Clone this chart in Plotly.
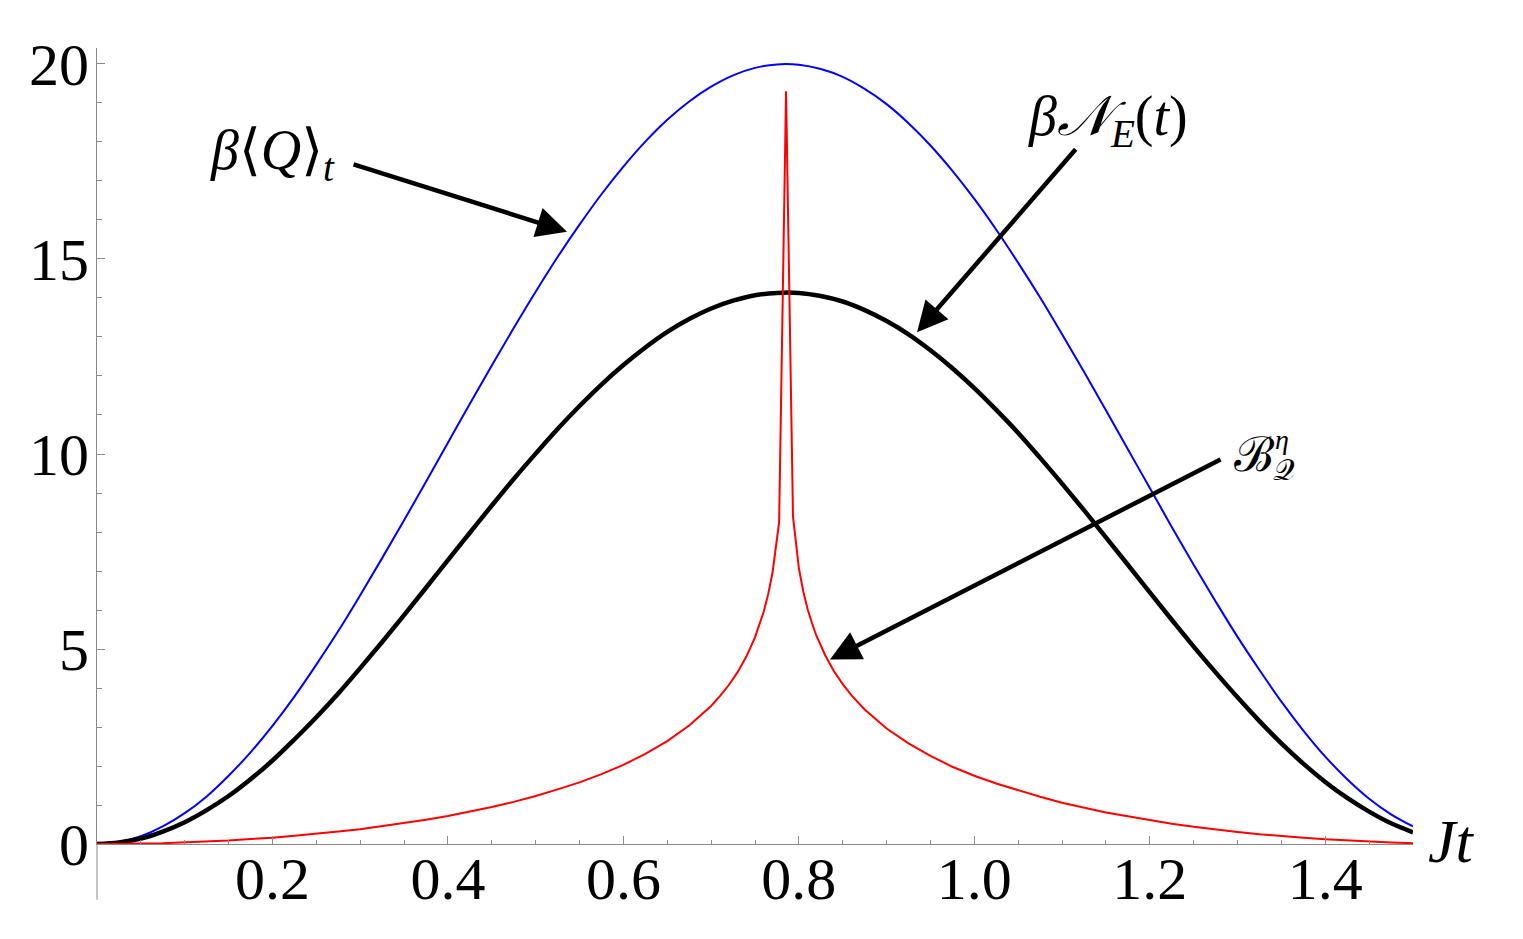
import plotly.graph_objects as go

# ---- data ----
t_smooth = [0.0, 0.025, 0.05, 0.075, 0.1, 0.125, 0.15, 0.175, 0.2, 0.225, 0.25, 0.275, 0.3, 0.325,
            0.35, 0.375, 0.4, 0.425, 0.45, 0.475, 0.5, 0.525, 0.55, 0.575, 0.6, 0.625, 0.65, 0.675,
            0.7, 0.725, 0.75, 0.775, 0.8, 0.825, 0.85, 0.875, 0.9, 0.925, 0.95, 0.975, 1.0, 1.025,
            1.05, 1.075, 1.1, 1.125, 1.15, 1.175, 1.2, 1.225, 1.25, 1.275, 1.3, 1.325, 1.35, 1.375,
            1.4, 1.425, 1.45, 1.475, 1.5]

heat_Q = [0.0, 0.05, 0.2, 0.45, 0.79, 1.22, 1.75, 2.35, 3.03, 3.78, 4.6, 5.46, 6.38, 7.33,
          8.3, 9.29, 10.29, 11.29, 12.27, 13.23, 14.16, 15.05, 15.88, 16.66, 17.37, 18.01, 18.57, 19.04,
          19.42, 19.71, 19.9, 19.99, 19.98, 19.87, 19.67, 19.36, 18.97, 18.48, 17.91, 17.26, 16.54, 15.75,
          14.9, 14.01, 13.07, 12.11, 11.12, 10.12, 9.13, 8.13, 7.16, 6.22, 5.31, 4.46, 3.65, 2.91,
          2.24, 1.66, 1.16, 0.76, 0.45]

negativity_NE = [0.0, 0.04, 0.14, 0.32, 0.56, 0.87, 1.23, 1.66, 2.14, 2.68, 3.25, 3.86, 4.51, 5.18,
                 5.87, 6.57, 7.28, 7.98, 8.68, 9.36, 10.01, 10.64, 11.23, 11.78, 12.28, 12.73, 13.13, 13.46,
                 13.73, 13.93, 14.07, 14.13, 14.13, 14.05, 13.91, 13.69, 13.41, 13.07, 12.66, 12.2, 11.69, 11.13,
                 10.54, 9.9, 9.24, 8.56, 7.86, 7.16, 6.45, 5.75, 5.06, 4.4, 3.76, 3.15, 2.58, 2.06,
                 1.59, 1.18, 0.83, 0.53, 0.3]

t_red = [0.0, 0.025, 0.05, 0.075, 0.1, 0.125, 0.15, 0.175, 0.2, 0.225, 0.25, 0.275, 0.3, 0.325,
         0.35, 0.375, 0.4, 0.425, 0.45, 0.475, 0.5, 0.525, 0.55, 0.575, 0.6, 0.625, 0.65, 0.675,
         0.69, 0.7, 0.71, 0.72, 0.73, 0.74, 0.75, 0.76, 0.765, 0.77, 0.7775, 0.7854, 0.7933,
         0.8, 0.805, 0.81, 0.815, 0.82, 0.83, 0.84, 0.85, 0.86, 0.875, 0.9, 0.925, 0.95, 0.975,
         1.0, 1.025, 1.05, 1.075, 1.1, 1.125, 1.15, 1.175, 1.2, 1.225, 1.25, 1.275, 1.3, 1.325,
         1.35, 1.375, 1.4, 1.425, 1.45, 1.475, 1.5]

bound_B = [0.0, 0.0, 0.01, 0.02, 0.04, 0.06, 0.09, 0.13, 0.16, 0.21, 0.26, 0.32, 0.38, 0.46,
           0.54, 0.62, 0.72, 0.83, 0.95, 1.08, 1.23, 1.4, 1.58, 1.79, 2.03, 2.31, 2.64, 3.04,
           3.33, 3.54, 3.79, 4.07, 4.4, 4.8, 5.3, 5.96, 6.4, 6.96, 8.25, 19.3, 8.4,
           7.07, 6.48, 6.02, 5.66, 5.34, 4.84, 4.43, 4.1, 3.81, 3.45, 2.96, 2.58, 2.26, 1.98,
           1.75, 1.55, 1.37, 1.21, 1.06, 0.93, 0.81, 0.71, 0.61, 0.52, 0.44, 0.37, 0.31, 0.25,
           0.2, 0.16, 0.12, 0.09, 0.06, 0.04, 0.02]

x_ticks = [0.2, 0.4, 0.6, 0.8, 1.0, 1.2, 1.4]
x_labels = ["0.2", "0.4", "0.6", "0.8", "1.0", "1.2", "1.4"]
y_ticks = [0, 5, 10, 15, 20]
y_labels = ["0", "5", "10", "15", "20"]

SERIF = "Liberation Serif, Times New Roman, DejaVu Serif, serif"
AXC = "#8a8a8a"

fig = go.Figure()
fig.add_trace(go.Scatter(x=t_smooth, y=heat_Q, mode="lines",
                         line=dict(color="#0000ff", width=2, shape="spline"), showlegend=False))
fig.add_trace(go.Scatter(x=t_smooth, y=negativity_NE, mode="lines",
                         line=dict(color="#000000", width=4.5, shape="spline"), showlegend=False))
fig.add_trace(go.Scatter(x=t_red, y=bound_B, mode="lines",
                         line=dict(color="#ff0000", width=2), showlegend=False))

fig.update_layout(
    width=1523, height=939,
    margin=dict(l=97, r=110, t=48, b=95),
    paper_bgcolor="white", plot_bgcolor="white",
    font=dict(family=SERIF, color="black"),
    xaxis=dict(range=[0, 1.5], showgrid=False, zeroline=False,
               showline=True, linecolor=AXC, linewidth=1,
               tickmode="array", tickvals=x_ticks, ticktext=x_labels,
               ticks="inside", ticklen=8, tickcolor=AXC, tickwidth=1,
               ticklabelstandoff=-18,
               tickfont=dict(family=SERIF, size=60, color="black"),
               minor=dict(tick0=0, dtick=0.05, ticks="inside", ticklen=4.5,
                          tickcolor=AXC, tickwidth=1, showgrid=False)),
    yaxis=dict(range=[0, 20.41], showgrid=False, zeroline=False,
               showline=True, linecolor=AXC, linewidth=1,
               tickmode="array", tickvals=y_ticks, ticktext=y_labels,
               ticks="inside", ticklen=8, tickcolor=AXC, tickwidth=1,
               ticklabelstandoff=-5,
               tickfont=dict(family=SERIF, size=60, color="black"),
               minor=dict(tick0=0, dtick=1, ticks="inside", ticklen=4.5,
                          tickcolor=AXC, tickwidth=1, showgrid=False)),
)

# y-axis extends a little below the origin (Mathematica style)
fig.add_shape(type="line", xref="paper", yref="paper", x0=0, x1=0, y0=-0.07, y1=0,
              line=dict(color=AXC, width=1))

arrow = dict(xref="x", yref="y", axref="x", ayref="y", showarrow=True, text="",
             arrowhead=2, arrowsize=1.35, arrowwidth=4.5, arrowcolor="black", standoff=0)
fig.add_annotation(x=0.5357, y=15.70, ax=0.2907, ay=17.44, **arrow)
fig.add_annotation(x=0.9347, y=13.12, ax=1.117, ay=17.85, **arrow)
fig.add_annotation(x=0.8355, y=4.73, ax=1.2823, ay=9.88, **arrow)

fig.add_annotation(x=0.1995, y=17.68, text="<i>β</i>⟨<i>Q</i>⟩<sub><i>t</i></sub>",
                   xref="x", yref="y", showarrow=False,
                   font=dict(family=SERIF, size=56, color="black"))
fig.add_annotation(x=1.1524, y=18.57, text="<i>β𝒩</i><sub><i>E</i></sub>(<i>t</i>)",
                   xref="x", yref="y", showarrow=False,
                   font=dict(family=SERIF, size=56, color="black"))
fig.add_annotation(x=1.3188, y=9.98, text="ℬ", xref="x", yref="y", showarrow=False,
                   font=dict(family=SERIF, size=48, color="black"))
fig.add_annotation(x=1.351, y=10.38, text="<i>η</i>", xref="x", yref="y", showarrow=False,
                   font=dict(family=SERIF, size=28, color="black"))
fig.add_annotation(x=1.353, y=9.6, text="𝒬", xref="x", yref="y", showarrow=False,
                   font=dict(family=SERIF, size=30, color="black"))
fig.add_annotation(x=1.0296, y=0.004, text="<i>Jt</i>", xref="paper", yref="paper",
                   xanchor="center", yanchor="middle", showarrow=False,
                   font=dict(family=SERIF, size=62, color="black"))

fig.write_html("out.html")
